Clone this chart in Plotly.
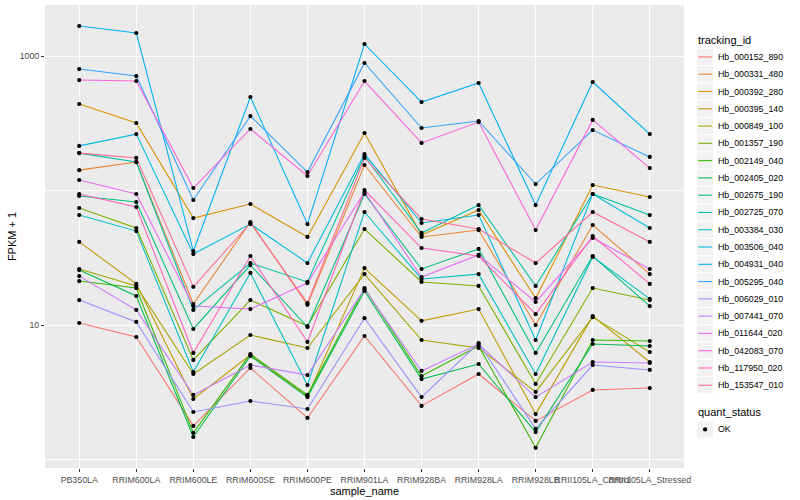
import plotly.graph_objects as go

# ---------------- data (FPKM + 1) ----------------
samples = ["PB350LA", "RRIM600LA", "RRIM600LE", "RRIM600SE", "RRIM600PE",
           "RRIM901LA", "RRIM928BA", "RRIM928LA", "RRIM928LB",
           "RRII105LA_Control", "RRII105LA_Stressed"]

tracking_ids = ["Hb_000152_890", "Hb_000331_480", "Hb_000392_280", "Hb_000395_140",
                "Hb_000849_100", "Hb_001357_190", "Hb_002149_040", "Hb_002405_020",
                "Hb_002675_190", "Hb_002725_070", "Hb_003384_030", "Hb_003506_040",
                "Hb_004931_040", "Hb_005295_040", "Hb_006029_010", "Hb_007441_070",
                "Hb_011644_020", "Hb_042083_070", "Hb_117950_020", "Hb_153547_010"]

Hb_000152_890 = [10.4, 8.19, 1.79, 4.82, 2.05, 8.33, 2.52, 4.35, 1.95, 3.31, 3.42]
Hb_000331_480 = [142, 163, 14.4, 58.5, 14.2, 155, 45.3, 51.0, 10.05, 55.6, 24.0]
Hb_000392_280 = [440, 318, 62.6, 79.6, 45.3, 268, 46.8, 71.8, 15.9, 110, 89.7]
Hb_000395_140 = [41.6, 20.3, 2.84, 6.02, 2.98, 26.6, 10.8, 13.2, 2.19, 11.7, 5.34]
Hb_000849_100 = [26.2, 19.6, 4.35, 8.47, 6.78, 24.0, 7.78, 6.78, 3.20, 11.5, 6.33]
Hb_001357_190 = [74.3, 52.8, 5.53, 15.4, 9.88, 51.9, 21.0, 19.6, 3.67, 18.9, 15.4]
Hb_002149_040 = [21.3, 18.9, 1.59, 6.12, 3.04, 18.9, 4.20, 7.02, 1.23, 7.78, 7.64]
Hb_002405_020 = [25.7, 16.5, 1.48, 5.92, 2.93, 18.0, 3.99, 5.16, 1.61, 7.26, 7.02]
Hb_002675_190 = [91.3, 82.3, 9.39, 28.0, 9.71, 94.4, 26.2, 36.9, 6.23, 32.7, 13.9]
Hb_002725_070 = [190, 163, 13.0, 29.0, 21.0, 181, 48.5, 78.2, 19.6, 94.4, 65.9]
Hb_003384_030 = [65.9, 50.1, 4.50, 24.5, 3.60, 69.4, 22.1, 24.0, 4.35, 32.2, 15.7]
Hb_003506_040 = [215, 263, 33.8, 56.5, 29.0, 187, 57.5, 65.9, 7.78, 94.4, 52.8]
Hb_004931_040 = [1670, 1482, 35.6, 496, 56.5, 1228, 455, 630, 78.2, 641, 263]
Hb_005295_040 = [800, 710, 85.2, 358, 137.5, 887, 292, 329, 112, 282, 178]
Hb_006029_010 = [15.4, 10.6, 2.27, 2.74, 2.39, 11.3, 2.93, 7.39, 1.70, 5.07, 4.66]
Hb_007441_070 = [23.2, 13.0, 3.04, 5.07, 4.27, 18.6, 4.58, 7.26, 2.93, 5.34, 5.25]
Hb_011644_020 = [120, 94.4, 13.9, 13.2, 20.6, 97.7, 22.8, 33.3, 14.9, 44.5, 26.2]
Hb_042083_070 = [663, 652, 104.6, 287, 128.5, 652, 226, 323, 51.0, 335, 147]
Hb_117950_020 = [94.4, 75.6, 6.23, 32.7, 7.52, 101, 37.5, 32.7, 12.1, 46.0, 20.3]
Hb_153547_010 = [190, 175, 19.3, 57.5, 14.6, 175, 61.6, 51.9, 29.0, 69.4, 41.6]

series_values = [Hb_000152_890, Hb_000331_480, Hb_000392_280, Hb_000395_140,
                 Hb_000849_100, Hb_001357_190, Hb_002149_040, Hb_002405_020,
                 Hb_002675_190, Hb_002725_070, Hb_003384_030, Hb_003506_040,
                 Hb_004931_040, Hb_005295_040, Hb_006029_010, Hb_007441_070,
                 Hb_011644_020, Hb_042083_070, Hb_117950_020, Hb_153547_010]

y_tick_vals = [10, 1000]
y_tick_text = ["10", "1000"]
quant_status = ["OK"]

# ---------------- styling ----------------
colors = ["#F8766D", "#EA8331", "#D89000", "#C09B00", "#A3A500", "#7CAE00", "#39B600",
          "#00BB4E", "#00BF7D", "#00C1A3", "#00BFC4", "#00BAE0", "#00B0F6", "#35A2FF",
          "#9590FF", "#C77CFF", "#E76BF3", "#FA62DB", "#FF62BC", "#FF6C91"]

FONT = "Liberation Sans, Arial, Helvetica, sans-serif"
W, H = 800, 500
ML, MR, MT, MB = 45, 116, 5, 32
PW = W - ML - MR
PH = H - MT - MB


def px(x):
    return (x - ML) / PW


def py(y):
    return (H - MB - y) / PH


fig = go.Figure()

for name, vals, col in zip(tracking_ids, series_values, colors):
    fig.add_trace(go.Scatter(
        x=samples, y=vals, mode="lines", name=name,
        line=dict(color=col, width=1.07), showlegend=False,
        hoverinfo="skip"))

all_x, all_y = [], []
for vals in series_values:
    all_x.extend(samples)
    all_y.extend(vals)
fig.add_trace(go.Scatter(
    x=all_x, y=all_y, mode="markers", name=quant_status[0],
    marker=dict(color="black", size=4.2), showlegend=False))

# ---------------- manual ggplot-style legend ----------------
shapes = []
annotations = []
annotations.append(dict(text="tracking_id", x=px(696), y=py(40.5), xref="paper", yref="paper",
                        xanchor="left", yanchor="middle", showarrow=False,
                        font=dict(family=FONT, size=11, color="black")))
key_top = 48.3
step = 17.28
for i, (name, col) in enumerate(zip(tracking_ids, colors)):
    y0 = key_top + i * step
    yc = y0 + step / 2
    shapes.append(dict(type="rect", xref="paper", yref="paper",
                       x0=px(696.5), x1=px(696.5 + step), y0=py(y0), y1=py(y0 + step),
                       fillcolor="#F2F2F2", line=dict(color="white", width=1), layer="above"))
    shapes.append(dict(type="line", xref="paper", yref="paper",
                       x0=px(698.2), x1=px(696.5 + step - 1.7), y0=py(yc), y1=py(yc),
                       line=dict(color=col, width=1.07), layer="above"))
    annotations.append(dict(text=name, x=px(716), y=py(yc), xref="paper", yref="paper",
                            xanchor="left", yanchor="middle", showarrow=False,
                            font=dict(family=FONT, size=8.8, color="black")))

annotations.append(dict(text="quant_status", x=px(696), y=py(412.3), xref="paper", yref="paper",
                        xanchor="left", yanchor="middle", showarrow=False,
                        font=dict(family=FONT, size=11, color="black")))
qy0 = 420.8
qyc = qy0 + step / 2
shapes.append(dict(type="rect", xref="paper", yref="paper",
                   x0=px(696.5), x1=px(696.5 + step), y0=py(qy0), y1=py(qy0 + step),
                   fillcolor="#F2F2F2", line=dict(color="white", width=1), layer="above"))
shapes.append(dict(type="circle", xref="paper", yref="paper",
                   x0=px(705.1 - 2.1), x1=px(705.1 + 2.1), y0=py(qyc - 2.1), y1=py(qyc + 2.1),
                   fillcolor="black", line=dict(color="black", width=0), layer="above"))
annotations.append(dict(text=quant_status[0], x=px(716), y=py(qyc), xref="paper", yref="paper",
                        xanchor="left", yanchor="middle", showarrow=False,
                        font=dict(family=FONT, size=8.8, color="black")))

fig.update_layout(
    width=W, height=H,
    margin=dict(l=ML, r=MR, t=MT, b=MB, pad=0),
    paper_bgcolor="white", plot_bgcolor="#EBEBEB",
    font=dict(family=FONT, size=11, color="black"),
    showlegend=False,
    shapes=shapes, annotations=annotations,
    xaxis=dict(
        type="category", categoryorder="array", categoryarray=samples,
        range=[-0.6, len(samples) - 1 + 0.6],
        tickmode="array", tickvals=samples, ticktext=samples, tickangle=0,
        showgrid=True, gridcolor="white", gridwidth=1.07, zeroline=False,
        showline=False, ticks="outside", ticklen=3, tickwidth=1, tickcolor="#333333",
        tickfont=dict(family=FONT, size=8.8, color="#4D4D4D"),
        title=dict(text="sample_name", standoff=0, font=dict(family=FONT, size=11, color="black")),
        automargin=False, fixedrange=True),
    yaxis=dict(
        type="log", range=[-0.0598, 3.3788],
        tickmode="array", tickvals=y_tick_vals, ticktext=y_tick_text,
        showgrid=True, gridcolor="white", gridwidth=1.07, zeroline=False,
        minor=dict(tickvals=[1, 100], showgrid=True, gridcolor="white", gridwidth=0.53, ticklen=0),
        showline=False, ticks="outside", ticklen=3, tickwidth=1, tickcolor="#333333",
        tickfont=dict(family=FONT, size=8.8, color="#4D4D4D"),
        title=dict(text="FPKM + 1", standoff=0, font=dict(family=FONT, size=11, color="black")),
        automargin=False, fixedrange=True),
)

fig.write_html("out.html", config={"displayModeBar": False},
               post_script="document.body.style.margin='0';document.body.style.padding='0';")
